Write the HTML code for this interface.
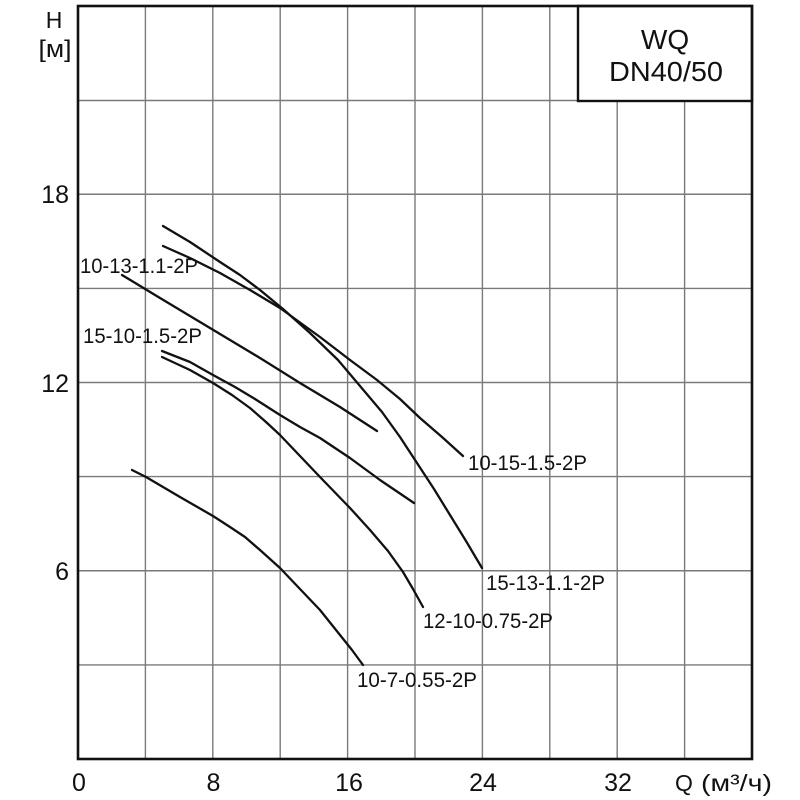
<!DOCTYPE html>
<html>
<head>
<meta charset="utf-8">
<style>
  html, body { margin: 0; padding: 0; background: #fff; }
  svg { display: block; }
  text { font-family: "Liberation Sans", Arial, sans-serif; fill: #111; }
</style>
</head>
<body>
<svg width="800" height="800" viewBox="0 0 800 800" xmlns="http://www.w3.org/2000/svg">
  <rect x="0" y="0" width="800" height="800" fill="#fff"/>

  <!-- grid -->
  <g stroke="#7a7a7a" stroke-width="1.4" fill="none">
    <line x1="145.4" y1="6" x2="145.4" y2="759"/>
    <line x1="212.8" y1="6" x2="212.8" y2="759"/>
    <line x1="280.2" y1="6" x2="280.2" y2="759"/>
    <line x1="347.6" y1="6" x2="347.6" y2="759"/>
    <line x1="415" y1="6" x2="415" y2="759"/>
    <line x1="482.4" y1="6" x2="482.4" y2="759"/>
    <line x1="549.8" y1="6" x2="549.8" y2="759"/>
    <line x1="617.2" y1="6" x2="617.2" y2="759"/>
    <line x1="684.6" y1="6" x2="684.6" y2="759"/>

    <line x1="78" y1="664.9" x2="752" y2="664.9"/>
    <line x1="78" y1="570.75" x2="752" y2="570.75"/>
    <line x1="78" y1="476.6" x2="752" y2="476.6"/>
    <line x1="78" y1="382.5" x2="752" y2="382.5"/>
    <line x1="78" y1="288.4" x2="752" y2="288.4"/>
    <line x1="78" y1="194.25" x2="752" y2="194.25"/>
    <line x1="78" y1="100.5" x2="752" y2="100.5"/>
  </g>

  <!-- title box -->
  <rect x="578" y="6" width="174" height="95" fill="#fff" stroke="#111" stroke-width="2.4"/>
  <text x="665" y="49" font-size="28" text-anchor="middle">WQ</text>
  <text x="666" y="81" font-size="28" text-anchor="middle" textLength="114" lengthAdjust="spacingAndGlyphs">DN40/50</text>

  <!-- frame -->
  <rect x="78" y="6" width="674" height="753" fill="none" stroke="#111" stroke-width="2.6"/>

  <!-- curves -->
  <g stroke="#111" stroke-width="2.3" fill="none" stroke-linejoin="round" stroke-linecap="round">
    <!-- 15-13-1.1-2P -->
    <polyline points="163,226 190,242 220,262 240,275 260,290 283,309 310,333 338,360 360,386 382,412 400,437 417,463 434,489 450,515 466,541 482,568"/>
    <!-- 10-15-1.5-2P -->
    <polyline points="163,246 190,258 220,273 250,290 280,308 320,337 350,360 377,380 400,399 420,418 442,437 463,456"/>
    <!-- 10-13-1.1-2P -->
    <polyline points="122,275 160,298 200,322 230,340 260,358 300,383 340,407 377,431"/>
    <!-- 15-10-1.5-2P -->
    <polyline points="162,351 190,362 213,375 235,387 255,399 280,415 300,427 320,438 350,458 380,480 414,503"/>
    <!-- 12-10-0.75-2P -->
    <polyline points="162,357 190,370 213,383 232,395 250,408 266,422 280,435 300,456 320,477 350,508 370,530 388,551 403,572 413,589 423,607"/>
    <!-- 10-7-0.55-2P -->
    <polyline points="132,470 146,477 180,497 213,516 230,527 245,537 260,550 280,568 300,589 320,610 340,635 352,650 363,665"/>
  </g>

  <!-- curve labels -->
  <g font-size="21.5">
    <text x="80" y="273" textLength="118" lengthAdjust="spacingAndGlyphs">10-13-1.1-2P</text>
    <text x="83" y="343" textLength="119" lengthAdjust="spacingAndGlyphs">15-10-1.5-2P</text>
    <text x="468" y="470" textLength="119" lengthAdjust="spacingAndGlyphs">10-15-1.5-2P</text>
    <text x="486" y="590" textLength="119" lengthAdjust="spacingAndGlyphs">15-13-1.1-2P</text>
    <text x="423" y="628" textLength="130" lengthAdjust="spacingAndGlyphs">12-10-0.75-2P</text>
    <text x="357" y="687" textLength="120" lengthAdjust="spacingAndGlyphs">10-7-0.55-2P</text>
  </g>

  <!-- y axis labels -->
  <g font-size="25" text-anchor="end">
    <text x="69" y="203">18</text>
    <text x="69" y="392">12</text>
    <text x="69" y="580">6</text>
  </g>
  <text x="54" y="28" font-size="23" text-anchor="middle">H</text>
  <text x="55" y="57" font-size="24" text-anchor="middle" textLength="33" lengthAdjust="spacingAndGlyphs">[м]</text>

  <!-- x axis labels -->
  <g font-size="25" text-anchor="middle">
    <text x="79" y="791">0</text>
    <text x="213.5" y="791">8</text>
    <text x="349" y="791">16</text>
    <text x="483" y="791">24</text>
    <text x="618" y="791">32</text>
  </g>
  <text x="675" y="791" font-size="23">Q</text>
  <text x="701" y="791" font-size="23" textLength="71" lengthAdjust="spacingAndGlyphs">(м³/ч)</text>
</svg>
</body>
</html>
